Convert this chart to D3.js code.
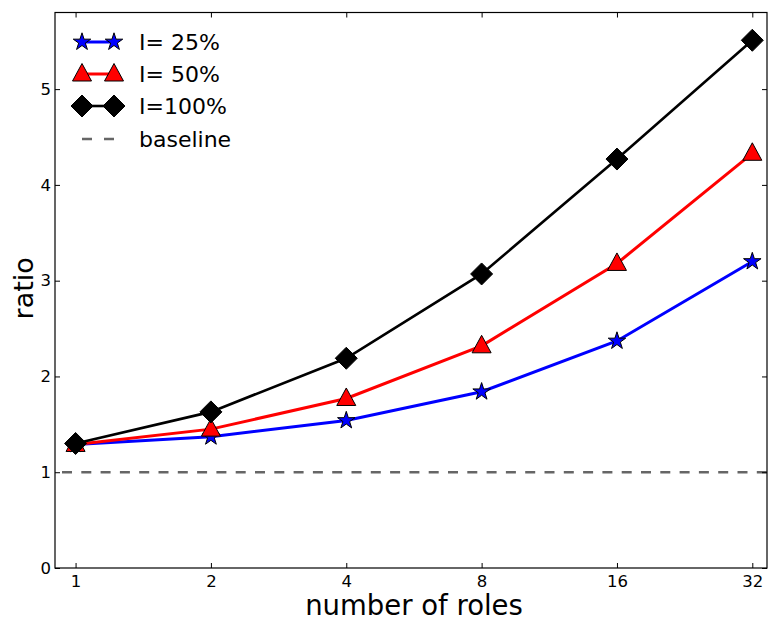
<!DOCTYPE html>
<html>
<head>
<meta charset="utf-8">
<script src="https://cdn.jsdelivr.net/npm/d3@7"></script>
<style>
  body { margin: 0; background: #fff; }
  svg { font-family: "DejaVu Sans", sans-serif; }
</style>
</head>
<body>
<svg id="chart" width="768" height="620"></svg>
<script>
// data
const roles = [1, 2, 4, 8, 16, 32];
const i25 = [1.29, 1.37, 1.54, 1.84, 2.37, 3.20];
const i50 = [1.29, 1.45, 1.77, 2.32, 3.18, 4.33];
const i100 = [1.30, 1.63, 2.19, 3.07, 4.27, 5.51];
const baseline = 1;
const yTicks = [0, 1, 2, 3, 4, 5];
const seriesNames = ["I= 25%", "I= 50%", "I=100%"];

const svg = d3.select("#chart");
const plotL = 55, plotR = 767, plotT = 12.5, plotB = 568;

// x is log2, padded a bit on each side
const x = d3.scaleLog().base(2).domain([0.9, 34.5]).range([plotL, plotR]);
const y = d3.scaleLinear().domain([0, 5.8]).range([plotB, plotT]);

const series = [
  { name: seriesNames[0], values: i25, color: "#0000ff", width: 3, marker: "star" },
  { name: seriesNames[1], values: i50, color: "#ff0000", width: 3, marker: "triangle" },
  { name: seriesNames[2], values: i100, color: "#000000", width: 2.6, marker: "diamond" }
];

function markerPath(type) {
  if (type === "star") return d3.symbol().type(d3.symbolStar).size(95)();
  if (type === "triangle") return "M0,-10.5L9.5,7L-9.5,7Z";
  return "M0,-11L11,0L0,11L-11,0Z";
}
function drawMarker(g, type, color, cx, cy) {
  g.append("path")
    .attr("d", markerPath(type))
    .attr("transform", `translate(${cx},${cy})`)
    .attr("fill", color)
    .attr("stroke", "#000")
    .attr("stroke-width", 1);
}

// baseline
svg.append("line")
  .attr("x1", plotL).attr("x2", plotR)
  .attr("y1", y(baseline)).attr("y2", y(baseline))
  .attr("stroke", "#666").attr("stroke-width", 2.5)
  .attr("stroke-dasharray", "10,9.3")
  .attr("stroke-dashoffset", -7);

// lines + markers
const line = d3.line().x((d, i) => x(roles[i])).y(d => y(d));
series.forEach(s => {
  svg.append("path")
    .attr("d", line(s.values))
    .attr("fill", "none")
    .attr("stroke", s.color)
    .attr("stroke-width", s.width);
  const g = svg.append("g");
  s.values.forEach((v, i) => drawMarker(g, s.marker, s.color, x(roles[i]), y(v)));
});

// frame
svg.append("rect")
  .attr("x", plotL).attr("y", plotT)
  .attr("width", plotR - plotL).attr("height", plotB - plotT)
  .attr("fill", "none").attr("stroke", "#000").attr("stroke-width", 1.2);

// axes with inward ticks
const xAxis = svg.append("g").attr("transform", `translate(0,${plotB})`)
  .call(d3.axisBottom(x).tickValues(roles).tickFormat(d3.format("d")).tickSize(-5).tickPadding(7));
const xTop = svg.append("g").attr("transform", `translate(0,${plotT})`)
  .call(d3.axisTop(x).tickValues(roles).tickFormat("").tickSize(-5));
const yAxis = svg.append("g").attr("transform", `translate(${plotL},0)`)
  .call(d3.axisLeft(y).tickValues(yTicks).tickFormat(d3.format("d")).tickSize(-5).tickPadding(4));
const yRight = svg.append("g").attr("transform", `translate(${plotR},0)`)
  .call(d3.axisRight(y).tickValues(yTicks).tickFormat("").tickSize(-5));

[xAxis, xTop, yAxis, yRight].forEach(g => {
  g.select(".domain").remove();
  g.selectAll("line").attr("stroke", "#000").attr("stroke-width", 1);
  g.selectAll("text").attr("font-size", 16.5).attr("fill", "#000")
    .attr("font-family", "DejaVu Sans");
});

// axis titles
svg.append("text")
  .attr("x", 414).attr("y", 615)
  .attr("text-anchor", "middle").attr("font-size", 27.5)
  .text("number of roles");
svg.append("text")
  .attr("transform", `translate(33,${(plotT + plotB) / 2 - 2}) rotate(-90)`)
  .attr("text-anchor", "middle").attr("font-size", 27)
  .text("ratio");

// legend
const legend = svg.append("g");
const legendRows = [42, 74, 106];
series.forEach((s, i) => {
  const ly = legendRows[i];
  legend.append("line")
    .attr("x1", 82).attr("x2", 114).attr("y1", ly).attr("y2", ly)
    .attr("stroke", s.color).attr("stroke-width", s.width);
  drawMarker(legend, s.marker, s.color, 82, ly);
  drawMarker(legend, s.marker, s.color, 114, ly);
  legend.append("text")
    .attr("x", 139).attr("y", ly + 8)
    .attr("font-size", 22)
    .text(s.name);
});
legend.append("line")
  .attr("x1", 82).attr("x2", 114).attr("y1", 139).attr("y2", 139)
  .attr("stroke", "#666").attr("stroke-width", 2.5)
  .attr("stroke-dasharray", "10,12");
legend.append("text")
  .attr("x", 139).attr("y", 147)
  .attr("font-size", 22)
  .text("baseline");
</script>
</body>
</html>
